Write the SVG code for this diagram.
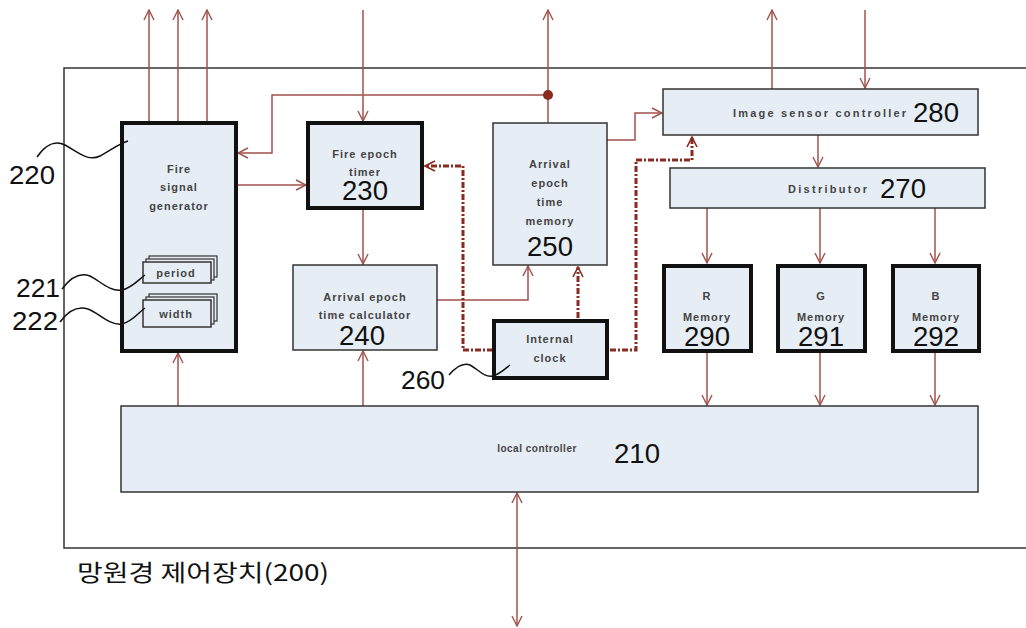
<svg xmlns="http://www.w3.org/2000/svg" width="1026" height="628" viewBox="0 0 1026 628">
<defs>
<marker id="ar" viewBox="0 0 12 12" refX="11" refY="6" markerWidth="12" markerHeight="12" markerUnits="userSpaceOnUse" orient="auto-start-reverse">
<path d="M1,1 L11,6 L1,11" fill="none" stroke="#a0524c" stroke-width="1.4"/>
</marker>
<marker id="ard" viewBox="0 0 12 12" refX="11" refY="6" markerWidth="12" markerHeight="12" markerUnits="userSpaceOnUse" orient="auto-start-reverse">
<path d="M1,1 L11,6 L1,11" fill="none" stroke="#8a2a20" stroke-width="1.6"/>
</marker>
</defs>
<style>
.box{fill:#e6edf5;stroke:#333;stroke-width:1.5}
.thick{fill:#e6edf5;stroke:#111;stroke-width:4}
.t{font-family:"Liberation Sans",Arial,sans-serif;font-size:11px;font-weight:bold;fill:#444;letter-spacing:1px;text-anchor:middle}
.n{font-family:"Liberation Sans Narrow","Liberation Sans",Arial,sans-serif;font-size:27px;fill:#111;text-anchor:middle}
.lbl{font-family:"Liberation Sans Narrow","Liberation Sans",Arial,sans-serif;font-size:26px;fill:#111}
.c{fill:none;stroke:#a0524c;stroke-width:1.5}
.d{fill:none;stroke:#8a2a20;stroke-width:3;stroke-dasharray:6 2 2 2}
.w{fill:none;stroke:#111;stroke-width:1.5}
</style>
<rect x="64" y="68" width="980" height="480" fill="none" stroke="#333" stroke-width="1.5"/>
<g id="connectors">
<line class="c" x1="149" y1="122" x2="149" y2="10" marker-end="url(#ar)"/>
<line class="c" x1="178" y1="122" x2="178" y2="10" marker-end="url(#ar)"/>
<line class="c" x1="207" y1="122" x2="207" y2="10" marker-end="url(#ar)"/>
<line class="c" x1="363" y1="10" x2="363" y2="121" marker-end="url(#ar)"/>
<line class="c" x1="548" y1="123" x2="548" y2="10" marker-end="url(#ar)"/>
<polyline class="c" points="548,95 272,95 272,153 238,153" marker-end="url(#ar)"/>
<circle cx="548" cy="95" r="5" fill="#8a2a20"/>
<line class="c" x1="772" y1="89" x2="772" y2="10" marker-end="url(#ar)"/>
<line class="c" x1="865" y1="10" x2="865" y2="88" marker-end="url(#ar)"/>
<line class="c" x1="238" y1="185" x2="306" y2="185" marker-end="url(#ar)"/>
<line class="c" x1="363" y1="210" x2="363" y2="264" marker-end="url(#ar)"/>
<polyline class="c" points="437,300 528,300 528,266" marker-end="url(#ar)"/>
<line class="c" x1="178" y1="406" x2="178" y2="353" marker-end="url(#ar)"/>
<line class="c" x1="363" y1="406" x2="363" y2="351" marker-end="url(#ar)"/>
<polyline class="c" points="607,140 635,140 635,113 662,113" marker-end="url(#ar)"/>
<line class="c" x1="818" y1="135" x2="818" y2="167" marker-end="url(#ar)"/>
<line class="c" x1="707" y1="208" x2="707" y2="263" marker-end="url(#ar)"/>
<line class="c" x1="820" y1="208" x2="820" y2="263" marker-end="url(#ar)"/>
<line class="c" x1="935" y1="208" x2="935" y2="263" marker-end="url(#ar)"/>
<line class="c" x1="707" y1="353" x2="707" y2="405" marker-end="url(#ar)"/>
<line class="c" x1="820" y1="353" x2="820" y2="405" marker-end="url(#ar)"/>
<line class="c" x1="935" y1="353" x2="935" y2="405" marker-end="url(#ar)"/>
<line class="c" x1="517" y1="493" x2="517" y2="626" marker-start="url(#ar)" marker-end="url(#ar)"/>
<polyline class="d" points="493,350 463,350 463,166 425,166" marker-end="url(#ard)"/>
<line class="d" x1="578" y1="318" x2="578" y2="267" marker-end="url(#ard)"/>
<polyline class="d" points="610,350 636,350 636,160 692,160 692,137" marker-end="url(#ard)"/>
</g>
<g id="n220">
<rect class="thick" x="122" y="123" width="114" height="228"/>
<text class="t" x="179" y="173">Fire</text>
<text class="t" x="179" y="191">signal</text>
<text class="t" x="179" y="210">generator</text>
<text class="lbl" x="9" y="184" textLength="46" lengthAdjust="spacingAndGlyphs">220</text>
<path class="w" d="M37,157 C45,145 55,140 65,145 C78,152 88,162 100,156 C110,151 118,144 128,141"/>
</g>
<g id="n221">
<rect x="149" y="256" width="68" height="21" fill="#e6edf5" stroke="#333" stroke-width="1.2"/>
<rect x="146" y="259" width="68" height="21" fill="#e6edf5" stroke="#333" stroke-width="1.2"/>
<rect x="143" y="262" width="68" height="21" fill="#e6edf5" stroke="#333" stroke-width="1.5"/>
<text class="t" x="176" y="277">period</text>
<text class="lbl" x="16" y="297" textLength="44" lengthAdjust="spacingAndGlyphs">221</text>
<path class="w" d="M62,289 C70,278 80,272 90,276 C100,281 110,292 122,290 C132,288 138,280 145,275"/>
</g>
<g id="n222">
<rect x="149" y="294" width="68" height="27" fill="#e6edf5" stroke="#333" stroke-width="1.2"/>
<rect x="146" y="297" width="68" height="27" fill="#e6edf5" stroke="#333" stroke-width="1.2"/>
<rect x="143" y="300" width="68" height="27" fill="#e6edf5" stroke="#333" stroke-width="1.5"/>
<text class="t" x="176" y="318">width</text>
<text class="lbl" x="12" y="330" textLength="46" lengthAdjust="spacingAndGlyphs">222</text>
<path class="w" d="M60,322 C68,311 78,306 88,309 C99,313 110,326 122,324 C132,322 138,313 145,308"/>
</g>
<g id="n230">
<rect class="thick" x="308" y="123" width="114" height="85"/>
<text class="t" x="365" y="158">Fire epoch</text>
<text class="t" x="365" y="176">timer</text>
<text class="n" x="365" y="200" textLength="46" lengthAdjust="spacingAndGlyphs">230</text>
</g>
<g id="n240">
<rect class="box" x="293" y="265" width="144" height="85"/>
<text class="t" x="365" y="301">Arrival epoch</text>
<text class="t" x="365" y="319">time calculator</text>
<text class="n" x="362" y="345" textLength="46" lengthAdjust="spacingAndGlyphs">240</text>
</g>
<g id="n250">
<rect class="box" x="493" y="123" width="114" height="142"/>
<text class="t" x="550" y="168">Arrival</text>
<text class="t" x="550" y="187">epoch</text>
<text class="t" x="550" y="206">time</text>
<text class="t" x="550" y="225">memory</text>
<text class="n" x="550" y="256" textLength="46" lengthAdjust="spacingAndGlyphs">250</text>
</g>
<g id="n260">
<rect class="thick" x="494" y="321" width="113" height="57"/>
<text class="t" x="550" y="343">Internal</text>
<text class="t" x="550" y="362">clock</text>
<text class="lbl" x="401" y="389" textLength="44" lengthAdjust="spacingAndGlyphs">260</text>
<path class="w" d="M449,375 C455,368 462,362 470,365 C478,369 484,378 493,376 C500,374 505,369 510,365"/>
</g>
<g id="n280">
<rect class="box" x="663" y="89" width="315" height="46"/>
<text class="t" x="820" y="117" textLength="174" lengthAdjust="spacing">Image sensor controller</text>
<text class="n" x="936" y="122" textLength="46" lengthAdjust="spacingAndGlyphs">280</text>
</g>
<g id="n270">
<rect class="box" x="670" y="168" width="315" height="40"/>
<text class="t" x="828" y="193" textLength="80" lengthAdjust="spacing">Distributor</text>
<text class="n" x="903" y="198" textLength="46" lengthAdjust="spacingAndGlyphs">270</text>
</g>
<g id="n290">
<rect class="thick" x="664" y="266" width="87" height="85"/>
<text class="t" x="707" y="300">R</text>
<text class="t" x="707" y="321">Memory</text>
<text class="n" x="707" y="346" textLength="46" lengthAdjust="spacingAndGlyphs">290</text>
</g>
<g id="n291">
<rect class="thick" x="778" y="266" width="87" height="85"/>
<text class="t" x="821" y="300">G</text>
<text class="t" x="821" y="321">Memory</text>
<text class="n" x="821" y="346" textLength="46" lengthAdjust="spacingAndGlyphs">291</text>
</g>
<g id="n292">
<rect class="thick" x="893" y="266" width="86" height="85"/>
<text class="t" x="936" y="300">B</text>
<text class="t" x="936" y="321">Memory</text>
<text class="n" x="936" y="346" textLength="46" lengthAdjust="spacingAndGlyphs">292</text>
</g>
<g id="n210">
<rect class="box" x="121" y="406" width="857" height="86"/>
<text class="t" x="537" y="452" style="font-size:10px;letter-spacing:0.5px">local controller</text>
<text class="n" x="637" y="463" textLength="46" lengthAdjust="spacingAndGlyphs">210</text>
</g>
<text x="77" y="581" textLength="252" lengthAdjust="spacingAndGlyphs" style="font-family:'Noto Sans CJK KR','Noto Sans',sans-serif;font-size:23px;fill:#111">망원경 제어장치(200)</text>
</svg>
